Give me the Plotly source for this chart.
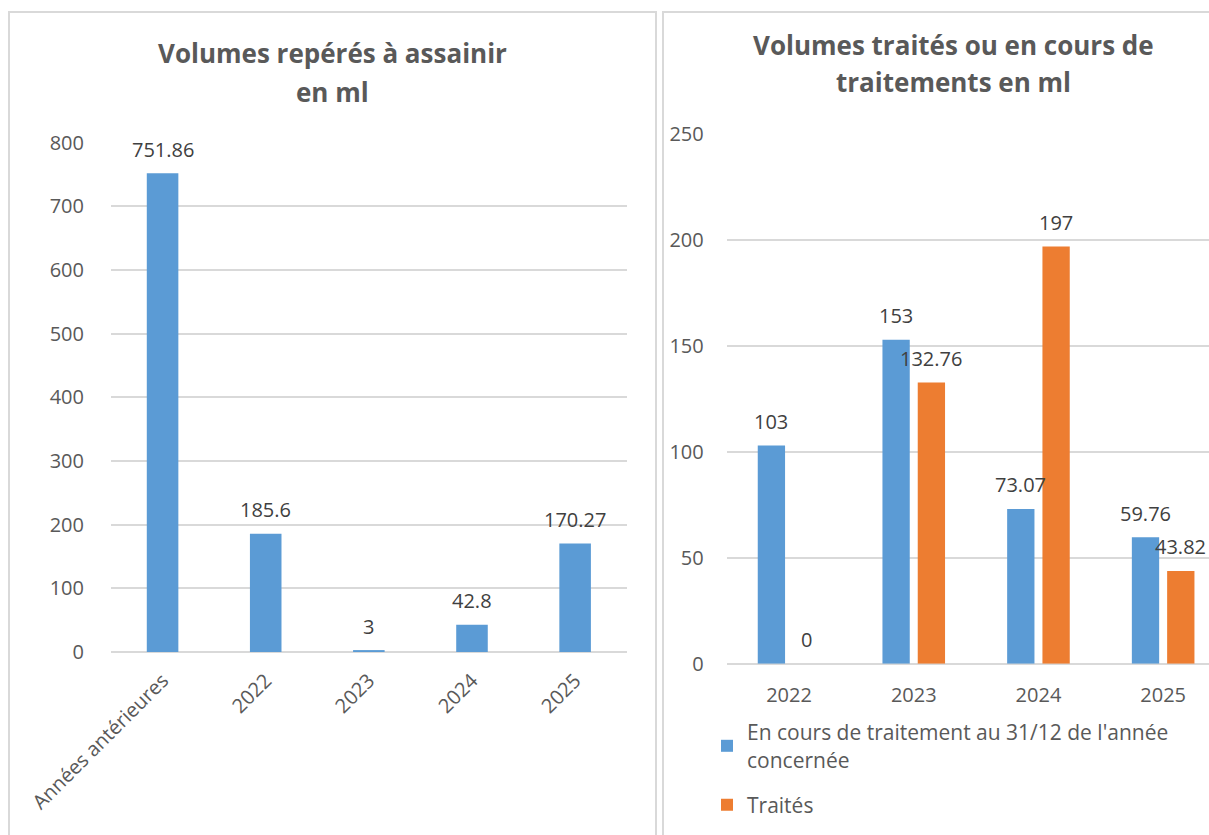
import plotly.graph_objects as go

# ---------------- data ----------------
left_categories = ["Années antérieures", "2022", "2023", "2024", "2025"]
left_values = [751.86, 185.6, 3, 42.8, 170.27]
left_labels = ["751.86", "185.6", "3", "42.8", "170.27"]
left_yticks = [0, 100, 200, 300, 400, 500, 600, 700, 800]

right_categories = ["2022", "2023", "2024", "2025"]
en_cours_values = [103, 153, 73.07, 59.76]
en_cours_labels = ["103", "153", "73.07", "59.76"]
traites_values = [0, 132.76, 197, 43.82]
traites_labels = ["0", "132.76", "197", "43.82"]
right_yticks = [0, 50, 100, 150, 200, 250]

left_title = ["Volumes repérés à assainir", "en ml"]
right_title = ["Volumes traités ou en cours de", "traitements en ml"]
name_en_cours = "En cours de traitement au 31/12 de l'année<br>concernée"
name_traites = "Traités"

# ---------------- style ----------------
W, H = 1209, 835
BLUE = "#5B9BD5"
ORANGE = "#ED7D31"
GRID = "#D9D9D9"
TICK = "#595959"
LABEL = "#404040"
FONT = "Open Sans"

def px_x(p):
    return p / W

def px_y(p):
    return 1 - p / H

left_idx = list(range(len(left_categories)))
right_idx = list(range(len(right_categories)))

fig = go.Figure()

LW = 0.306
fig.add_trace(go.Bar(
    x=left_idx, y=left_values, width=LW, offset=-LW / 2,
    marker=dict(color=BLUE, line=dict(width=0)),
    xaxis="x", yaxis="y", showlegend=False, hoverinfo="skip"))

RW = 0.219
OFF_B = -0.251
OFF_O = 0.032
fig.add_trace(go.Bar(
    x=right_idx, y=en_cours_values, width=RW, offset=OFF_B,
    marker=dict(color=BLUE, line=dict(width=0)),
    name=name_en_cours, legendgroup="a",
    xaxis="x2", yaxis="y2", hoverinfo="skip"))
fig.add_trace(go.Bar(
    x=right_idx, y=traites_values, width=RW, offset=OFF_O,
    marker=dict(color=ORANGE, line=dict(width=0)),
    name=name_traites, legendgroup="b",
    xaxis="x2", yaxis="y2", hoverinfo="skip"))

label_font = dict(family=FONT, size=20, color=LABEL)
annotations = []
for i, (v, t) in enumerate(zip(left_values, left_labels)):
    annotations.append(dict(x=i, y=v, xref="x", yref="y", text=t, showarrow=False,
                            xanchor="center", yshift=24, font=label_font))
for i, (v, t) in enumerate(zip(en_cours_values, en_cours_labels)):
    annotations.append(dict(x=i + OFF_B + RW / 2, y=v, xref="x2", yref="y2", text=t,
                            showarrow=False, xanchor="center", yshift=24, font=label_font))
for i, (v, t) in enumerate(zip(traites_values, traites_labels)):
    annotations.append(dict(x=i + OFF_O + RW / 2, y=v, xref="x2", yref="y2", text=t,
                            showarrow=False, xanchor="center", yshift=24, font=label_font))

title_font = dict(family=FONT, size=26, color=TICK)
for line, ypx in zip(left_title, [53, 92]):
    annotations.append(dict(x=px_x(332), y=px_y(ypx), xref="paper", yref="paper",
                            text="<b>%s</b>" % line, showarrow=False,
                            xanchor="center", yanchor="middle", font=title_font))
for line, ypx in zip(right_title, [45, 82]):
    annotations.append(dict(x=px_x(953), y=px_y(ypx), xref="paper", yref="paper",
                            text="<b>%s</b>" % line, showarrow=False,
                            xanchor="center", yanchor="middle", font=title_font))

shapes = [
    dict(type="rect", xref="paper", yref="paper", x0=px_x(9), x1=px_x(656),
         y0=-0.02, y1=px_y(12), line=dict(color=GRID, width=2)),
    dict(type="rect", xref="paper", yref="paper", x0=px_x(663), x1=1.02,
         y0=-0.02, y1=px_y(12), line=dict(color=GRID, width=2)),
]

axis_font = dict(family=FONT, size=20, color=TICK)
r_span = (W - 726.7) / 124.7

fig.update_layout(
    template="none",
    width=W, height=H,
    margin=dict(l=0, r=0, t=0, b=0, pad=0),
    paper_bgcolor="white", plot_bgcolor="white",
    barmode="overlay",
    showlegend=True,
    xaxis=dict(domain=[px_x(111), px_x(626.7)], range=[-0.5, 4.5], automargin=False,
               tickvals=left_idx, ticktext=left_categories, tickangle=-45,
               tickfont=axis_font, showgrid=False, zeroline=False,
               showline=False, ticks="", ticklabelstandoff=12),
    yaxis=dict(domain=[px_y(652), px_y(142.7)], range=[0, 800], tickvals=left_yticks,
               automargin=False,
               tickfont=axis_font, showgrid=True, gridcolor=GRID, gridwidth=1.5,
               zeroline=True, zerolinecolor=GRID, zerolinewidth=1.5, showline=False,
               ticks="", ticklabelstandoff=26),
    xaxis2=dict(domain=[px_x(726.7), 1.0], range=[-0.5, -0.5 + r_span], automargin=False,
                tickvals=right_idx, ticktext=right_categories, tickangle=0,
                tickfont=axis_font, showgrid=False, zeroline=False,
                showline=False, ticks="", ticklabelstandoff=17, anchor="y2"),
    yaxis2=dict(domain=[px_y(663.7), px_y(134.3)], range=[0, 250], tickvals=right_yticks,
                automargin=False,
                tickfont=axis_font, showgrid=True, gridcolor=GRID, gridwidth=1.5,
                zeroline=True, zerolinecolor=GRID, zerolinewidth=1.5, showline=False,
                ticks="", ticklabelstandoff=22, anchor="x2"),
    legend=dict(x=px_x(707), y=px_y(712), xanchor="left", yanchor="top",
                font=dict(family=FONT, size=21, color=TICK),
                traceorder="grouped", tracegroupgap=15,
                bgcolor="rgba(0,0,0,0)", borderwidth=0),
    annotations=annotations,
    shapes=shapes,
)

fig.write_html(
    "out.html",
    config={"displayModeBar": False},
    post_script="document.body.style.margin='0px';document.body.style.overflow='hidden';",
)
